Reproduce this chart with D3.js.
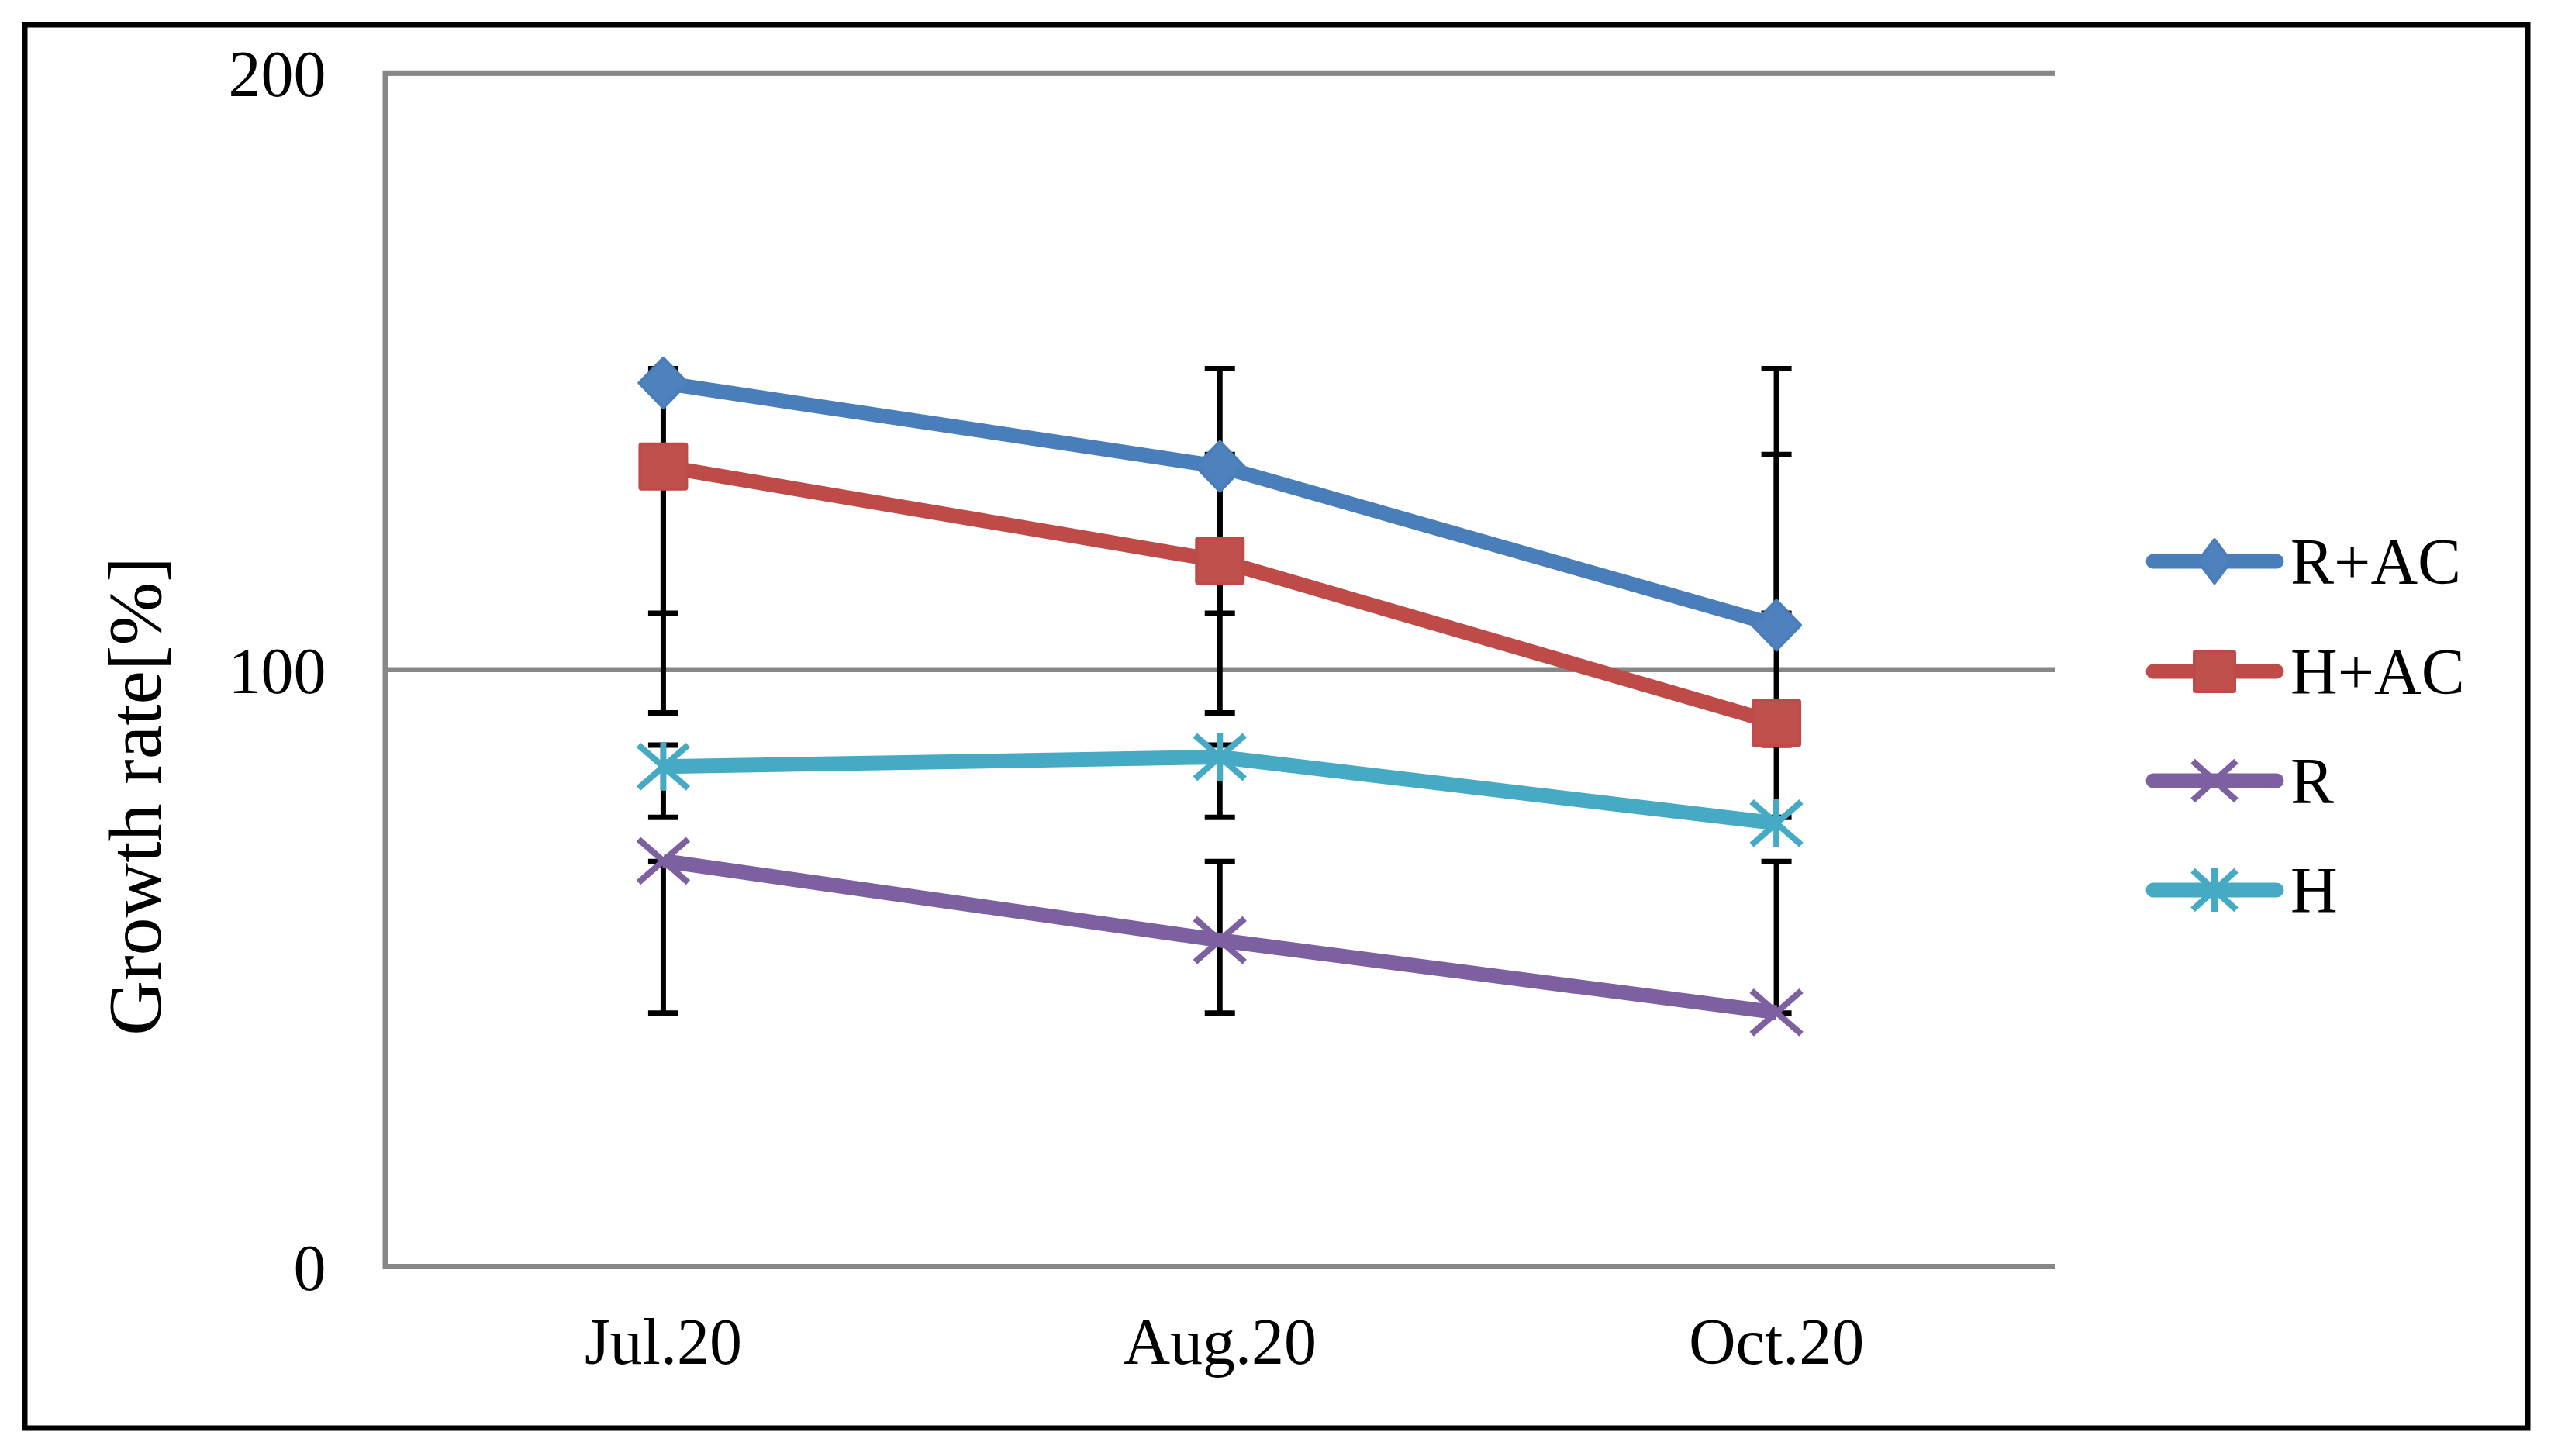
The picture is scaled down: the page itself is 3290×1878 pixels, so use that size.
<!DOCTYPE html>
<html>
<head>
<meta charset="utf-8">
<script src="https://cdn.jsdelivr.net/npm/d3@7"></script>
<style>
  body { margin: 0; background: #fff; }
  svg { display: block; font-family: "Liberation Serif", "Times New Roman", serif; }
</style>
</head>
<body>
<svg id="chart" width="3290" height="1878"></svg>
<script>
// categories and values
var categories = ['Jul.20', 'Aug.20', 'Oct.20']
var seriesNames = ['R+AC', 'H+AC', 'R', 'H']
var rAC = [148, 134, 107.4]
var hAC = [134, 118.2, 91]
var rOnly = [67.9, 54.6, 42.5]
var hOnly = [83.7, 85.3, 74.2]
// error bar ends [low, high], same at every month
var rACErr = [109.4, 150.4]
var hACErr = [92.7, 136]
var rErr = [42.4, 67.8]
var hErr = [75.2, 87.3]
var yTicks = [0, 100, 200]

var series = [
  { name: seriesNames[0], values: rAC, err: rACErr, line: '#4A7EBB', fill: '#4F81BD', marker: 'diamond' },
  { name: seriesNames[1], values: hAC, err: hACErr, line: '#BE4B48', fill: '#C0504D', marker: 'square' },
  { name: seriesNames[2], values: rOnly, err: rErr, line: '#7D60A0', fill: '#7D60A0', marker: 'x' },
  { name: seriesNames[3], values: hOnly, err: hErr, line: '#46AAC5', fill: '#46AAC5', marker: 'star' }
]

var svg = d3.select('#chart')
var plotLeft = 496.5, plotRight = 2650, plotTop = 93.7, plotBottom = 1633

/** outer frame */
svg.append('rect').attr('x', 32).attr('y', 32).attr('width', 3228).attr('height', 1810)
  .attr('fill', 'none').attr('stroke', '#000').attr('stroke-width', 7)

var x = d3.scaleBand().domain(categories).range([plotLeft, plotRight])
var y = d3.scaleLinear().domain([0, 200]).range([plotBottom, plotTop])
var cx = function (c) { return x(c) + x.bandwidth() / 2 }

/** y axis with gridlines */
var yAxis = svg.append('g').attr('transform', 'translate(' + plotLeft + ',0)')
  .call(d3.axisLeft(y).tickValues(yTicks).tickSize(-(plotRight - plotLeft)).tickPadding(76).tickFormat(d3.format('d')))
yAxis.attr('font-family', null).attr('font-size', 84)
yAxis.select('.domain').attr('stroke', '#878787').attr('stroke-width', 7)
yAxis.selectAll('.tick line').attr('stroke', '#878787').attr('stroke-width', 6.5)
yAxis.selectAll('.tick text').attr('fill', '#000').attr('dy', '0.36em')

/** x axis labels */
var xAxis = svg.append('g').attr('transform', 'translate(0,' + plotBottom + ')')
  .call(d3.axisBottom(x).tickSize(0).tickPadding(66))
xAxis.attr('font-family', null).attr('font-size', 84)
xAxis.select('.domain').remove()
xAxis.selectAll('.tick text').attr('fill', '#000')

/** y title */
svg.append('text').attr('transform', 'translate(207,1027) rotate(-90)')
  .attr('text-anchor', 'middle').attr('font-size', 98).text('Growth rate[%]')

/** error bars */
var capW = 39
series.forEach(function (s) {
  categories.forEach(function (c) {
    var g = svg.append('g').attr('stroke', '#000').attr('stroke-width', 7)
    g.append('line').attr('x1', cx(c)).attr('x2', cx(c)).attr('y1', y(s.err[0])).attr('y2', y(s.err[1]))
    s.err.forEach(function (v) {
      g.append('line').attr('x1', cx(c) - capW / 2).attr('x2', cx(c) + capW / 2).attr('y1', y(v)).attr('y2', y(v))
    })
  })
})

/** lines */
var line = d3.line().x(function (d, i) { return cx(categories[i]) }).y(function (d) { return y(d) })
series.forEach(function (s) {
  svg.append('path').attr('d', line(s.values)).attr('fill', 'none').attr('stroke', s.line)
    .attr('stroke-width', 19).attr('stroke-linejoin', 'round')
})

/** markers */
function drawMarker (g, s, px, py, w, h) {
  if (s.marker === 'diamond') {
    g.append('path').attr('d', 'M' + px + ',' + (py - h / 2) + 'L' + (px + w / 2) + ',' + py + 'L' + px + ',' + (py + h / 2) + 'L' + (px - w / 2) + ',' + py + 'Z')
      .attr('fill', s.fill).attr('stroke', s.line).attr('stroke-width', 4).attr('stroke-linejoin', 'round')
  } else if (s.marker === 'square') {
    g.append('rect').attr('x', px - w / 2 + 2).attr('y', py - h / 2 + 2).attr('width', w - 4).attr('height', h - 4)
      .attr('fill', s.fill).attr('stroke', s.line).attr('stroke-width', 4).attr('rx', 2)
  } else {
    var m = g.append('g').attr('stroke', s.fill).attr('stroke-width', 8)
    m.append('line').attr('x1', px - w / 2).attr('y1', py - h / 2 * 0.9).attr('x2', px + w / 2).attr('y2', py + h / 2 * 0.9)
    m.append('line').attr('x1', px - w / 2).attr('y1', py + h / 2 * 0.9).attr('x2', px + w / 2).attr('y2', py - h / 2 * 0.9)
    if (s.marker === 'star') {
      m.append('line').attr('x1', px).attr('y1', py - h / 2).attr('x2', px).attr('y2', py + h / 2)
    }
  }
}
series.forEach(function (s) {
  var g = svg.append('g')
  s.values.forEach(function (v, i) {
    drawMarker(g, s, cx(categories[i]), y(v), s.marker === 'diamond' ? 62 : 64, s.marker === 'diamond' ? 64 : 62)
  })
})

/** legend */
var legendY = [724, 866, 1007, 1148]
series.forEach(function (s, i) {
  var g = svg.append('g')
  g.append('line').attr('x1', 2777).attr('x2', 2936).attr('y1', legendY[i]).attr('y2', legendY[i])
    .attr('stroke', s.line).attr('stroke-width', 19).attr('stroke-linecap', 'round')
  drawMarker(g, s, 2856, legendY[i], s.marker === 'diamond' ? 42 : 56, 56)
  g.append('text').attr('x', 2954).attr('y', legendY[i] + 29).attr('font-size', 84).text(s.name)
})
</script>
</body>
</html>
